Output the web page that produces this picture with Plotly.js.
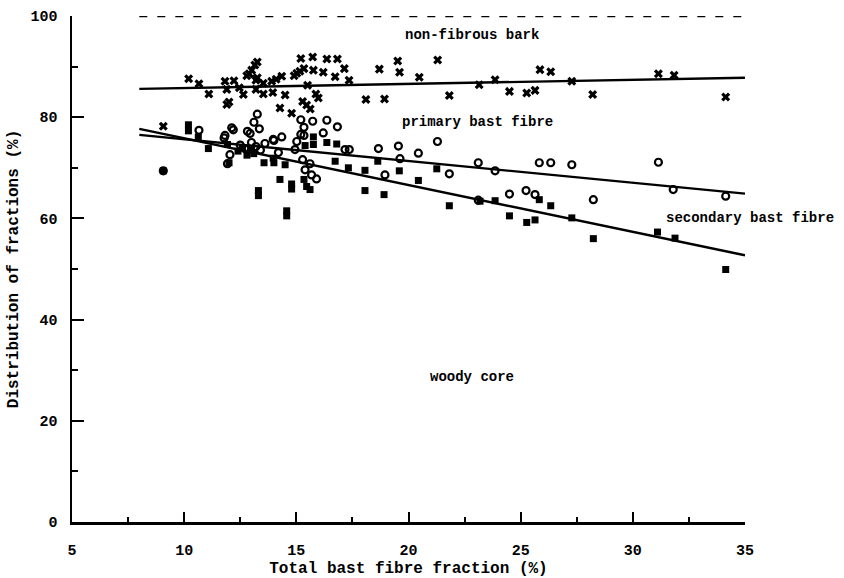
<!DOCTYPE html>
<html>
<head>
<meta charset="utf-8">
<script src="https://cdn.plot.ly/plotly-3.0.1.min.js"></script>
<style>html,body{margin:0;padding:0;background:#fff;}#chart{width:844px;height:578px;}</style>
</head>
<body>
<div id="chart"></div>
<script>
// Non-fibrous bark boundary (x markers)
const barkX = [9.07,10.2,10.66,11.1,11.82,12.22,11.9,12.0,11.9,12.46,12.64,12.79,12.9,13.01,13.15,13.26,13.2,13.26,13.2,13.53,13.53,13.9,14.1,14.35,13.95,14.5,14.27,14.79,14.9,15.02,15.16,15.2,15.73,15.34,15.76,16.2,16.36,16.83,16.73,17.14,17.35,15.5,15.87,15.98,15.28,15.46,15.62,18.1,18.7,18.93,19.52,19.6,20.48,21.3,21.82,23.15,23.86,24.5,25.27,25.64,25.86,26.34,27.28,28.21,31.14,31.84,34.14];
const barkY = [78.2,87.6,86.6,84.6,87.1,87.2,85.5,83.0,82.5,85.8,84.5,88.2,88.6,89.3,90.3,90.9,87.3,87.8,85.5,86.7,84.6,87.1,87.5,88.1,84.9,84.4,81.8,80.8,88.2,88.7,89.1,91.6,91.9,89.6,89.3,88.9,91.5,91.5,88.0,89.6,87.3,86.3,84.6,83.8,83.1,82.4,81.6,83.5,89.5,83.6,91.1,88.9,87.9,91.3,84.3,86.4,87.4,85.1,84.8,85.3,89.4,89.0,87.1,84.5,88.6,88.3,84.0];

// Primary bast fibre boundary (open circles)
const primaryX = [9.07,10.66,11.78,11.82,12.12,12.19,12.82,12.94,13.11,13.26,13.35,13.97,14.0,14.35,15.02,14.94,15.2,15.2,15.34,15.34,15.73,16.36,16.83,16.2,15.28,15.61,15.39,15.68,15.9,17.17,17.36,18.66,19.55,19.62,18.95,20.44,21.29,21.82,23.11,23.86,25.83,26.34,27.28,24.5,25.24,25.64,28.24,23.11,31.14,31.8,34.14,12.5,12.7,13.0,13.2,13.4,13.6,12.04,11.93,14.2];
const primaryY = [69.4,77.4,75.9,76.4,77.9,77.5,77.2,76.8,79.0,80.6,77.7,75.6,75.4,76.1,75.2,73.6,79.5,76.6,78.0,76.4,79.2,79.4,78.1,76.9,71.6,70.8,69.6,68.6,67.8,73.6,73.6,73.8,74.3,71.8,68.6,72.9,75.2,68.8,71.0,69.4,71.0,71.0,70.6,64.8,65.5,64.7,63.7,63.6,71.1,65.7,64.4,74.5,73.8,75.0,74.2,73.5,74.8,72.6,70.8,73.0];

// Secondary bast fibre boundary (filled squares)
const secondaryX = [9.07,10.19,10.19,10.63,11.08,11.93,12.0,12.4,12.6,12.8,13.0,13.1,13.31,13.31,13.56,13.97,14.0,14.5,14.27,14.79,14.79,14.57,14.57,15.76,15.76,16.36,16.8,15.39,16.73,17.32,18.06,18.63,18.06,18.91,15.34,15.46,15.61,19.59,20.44,21.26,21.82,23.19,23.86,24.5,25.27,25.64,25.83,26.34,27.28,28.24,31.1,31.88,34.14];
const secondaryY = [69.4,78.5,77.3,76.1,73.8,74.6,71.0,73.3,74.0,72.5,73.8,72.8,65.5,64.5,71.0,71.9,71.0,70.6,67.7,66.8,65.8,61.5,60.5,76.1,74.6,75.0,74.7,74.4,71.3,70.0,69.5,71.3,65.5,64.7,67.7,66.3,65.7,69.4,67.5,69.8,62.5,63.4,63.5,60.5,59.2,59.7,63.7,62.5,60.1,56.0,57.3,56.1,49.9];

// Fitted lines
const fitX = [8, 35];
const barkFit = [85.6, 87.8];
const primaryFit = [76.5, 64.9];
const secondaryFit = [77.7, 52.7];
const totalLine = [100, 100];

// Region labels (x in axis units, y in axis units)
const labelText = ["non-fibrous bark", "primary bast fibre", "secondary bast fibre", "woody core"];
const labelX = [22.82, 23.06, 35.23, 22.83];
const labelY = [96.3, 79.0, 60.1, 28.7];

const xTicks = [5, 10, 15, 20, 25, 30, 35];
const yTicks = [0, 20, 40, 60, 80, 100];
const xRange = [5, 35];

const FONT = "Liberation Mono, Courier New, monospace";
const lineStyle = {color: "black", width: 2.4};

const traces = [
  {x: fitX, y: totalLine, mode: "lines", line: {color: "black", width: 2.6, dash: "8px,10px"}, cliponaxis: false},
  {x: fitX, y: barkFit, mode: "lines", line: lineStyle, cliponaxis: false},
  {x: fitX, y: primaryFit, mode: "lines", line: lineStyle, cliponaxis: false},
  {x: fitX, y: secondaryFit, mode: "lines", line: lineStyle, cliponaxis: false},
  {x: barkX, y: barkY, mode: "markers", marker: {symbol: "x", size: 8, color: "black", line: {width: 0}}, cliponaxis: false},
  {x: primaryX, y: primaryY, mode: "markers", marker: {symbol: "circle-open", size: 7, color: "black", line: {width: 2.2, color: "black"}}, cliponaxis: false},
  {x: secondaryX, y: secondaryY, mode: "markers", marker: {symbol: "square", size: 7, color: "black"}, cliponaxis: false}
];

// labels placed in paper x (so one can sit right of the axis end), converted from axis units
const annotations = labelText.map((t, i) => ({
  x: (labelX[i] - xRange[0]) / (xRange[1] - xRange[0]), y: labelY[i], xref: "paper", yref: "y",
  text: "<b>" + t + "</b>",
  showarrow: false, xanchor: "center", yanchor: "middle",
  font: {family: FONT, size: 14, color: "black"}
}));

const layout = {
  width: 844, height: 578,
  margin: {l: 72, r: 99, t: 16, b: 56},
  paper_bgcolor: "white", plot_bgcolor: "white",
  showlegend: false,
  font: {family: FONT, color: "black"},
  xaxis: {
    range: xRange, tickvals: xTicks, ticktext: xTicks.map(v => "<b>" + v + "</b>"),
    ticks: "inside", ticklen: 10, tickwidth: 2, tickcolor: "black",
    minor: {dtick: 2.5, tick0: 5, ticks: "inside", ticklen: 5, tickwidth: 2, tickcolor: "black"},
    showline: true, linecolor: "black", linewidth: 2.5, mirror: false,
    showgrid: false, zeroline: false,
    tickfont: {family: FONT, size: 15, color: "black"},
    ticklabelstandoff: 12,
    title: {text: "<b>Total bast fibre fraction (%)</b>", font: {family: FONT, size: 16, color: "black"}, standoff: 5}
  },
  yaxis: {
    range: [0, 100], tickvals: yTicks, ticktext: yTicks.map(v => "<b>" + v + "</b>"),
    ticks: "inside", ticklen: 12, tickwidth: 2, tickcolor: "black",
    minor: {dtick: 10, tick0: 0, ticks: "inside", ticklen: 6, tickwidth: 2, tickcolor: "black"},
    showline: true, linecolor: "black", linewidth: 2.5, mirror: false,
    showgrid: false, zeroline: false,
    tickfont: {family: FONT, size: 15, color: "black"},
    ticklabelstandoff: 9,
    title: {text: "<b>Distribution of fractions (%)</b>", font: {family: FONT, size: 16, color: "black"}, standoff: 8}
  },
  annotations: annotations
};

Plotly.newPlot("chart", traces, layout, {displayModeBar: false, staticPlot: true});
</script>
</body>
</html>
